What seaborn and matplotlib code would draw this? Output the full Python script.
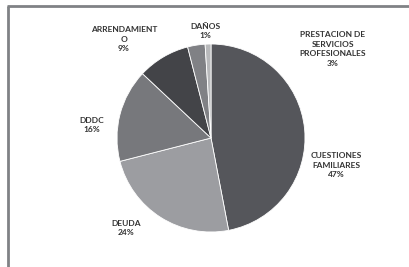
import matplotlib
matplotlib.use('Agg')
import matplotlib.pyplot as plt
import seaborn as sns

sns.set_style('white')
plt.rcParams['font.family'] = ['Lato', 'DejaVu Sans']

labels = ['CUESTIONES\nFAMILIARES', 'DEUDA', 'DDDC', 'ARRENDAMIENT\nO',
          'PRESTACION DE\nSERVICIOS\nPROFESIONALES', 'DAÑOS']
values = [47, 24, 16, 9, 3, 1]
colors = ['#55565b', '#9c9da1', '#77787c', '#434448', '#808185', '#b8b9bb']

# label spots in pixel coords (x, y from top)
label_pos = [(336, 165), (126, 228), (92, 125), (124, 39), (333, 49), (205, 31)]

W, H = 409, 267
fig = plt.figure(figsize=(W / 100, H / 100), dpi=100)
ax = fig.add_axes([0, 0, 1, 1])
ax.set_xlim(0, W)
ax.set_ylim(0, H)
ax.set_aspect('equal')
ax.axis('off')

ax.pie(values, colors=colors, startangle=90, counterclock=False,
       center=(211, H - 138), radius=94, frame=True,
       wedgeprops={'linewidth': 0.6, 'edgecolor': 'white'})
ax.set_xlim(0, W)
ax.set_ylim(0, H)
ax.axis('off')

for lab, v, (x, y) in zip(labels, values, label_pos):
    ax.text(x, H - y, lab + '\n' + str(v) + '%', ha='center', va='center',
            fontsize=6, fontweight='bold', color='#333333', linespacing=1.45)

# frame like the original (left and top only)
ax.plot([8, 8], [0, H - 6], color='#808285', lw=2, solid_capstyle='butt')
ax.plot([7, W], [H - 6, H - 6], color='#808285', lw=2, solid_capstyle='butt')

fig.savefig('out.png', dpi=100)
